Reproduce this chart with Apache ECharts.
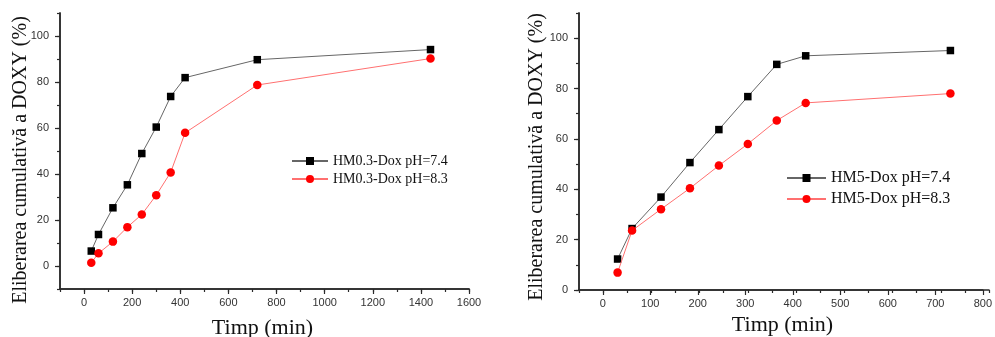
<!DOCTYPE html>
<html>
<head>
<meta charset="utf-8">
<script src="https://cdn.jsdelivr.net/npm/echarts@6/dist/echarts.min.js"></script>
<style>html,body{margin:0;padding:0;background:#fff}#c{width:995px;height:337px}</style>
</head>
<body>
<div id="c"></div>
<script>
// ---- data ----
const leftTimes = [30, 60, 120, 180, 240, 300, 360, 420, 720, 1440];
const leftPH74 = [6.5, 13.7, 25.3, 35.3, 48.9, 60.4, 73.7, 81.9, 89.7, 94.1];
const leftPH83 = [1.4, 5.5, 10.6, 16.9, 22.4, 30.8, 40.7, 57.9, 78.7, 90.2];
const rightTimes = [30, 60, 120, 180, 240, 300, 360, 420, 720];
const rightPH74 = [12.3, 24.4, 36.9, 50.6, 63.7, 76.8, 89.6, 93.0, 95.1];
const rightPH83 = [6.9, 23.6, 32.1, 40.4, 49.4, 58.0, 67.3, 74.3, 78.0];
const leftXTicks = [0, 200, 400, 600, 800, 1000, 1200, 1400, 1600];
const rightXTicks = [0, 100, 200, 300, 400, 500, 600, 700, 800];
const yTicks = [0, 20, 40, 60, 80, 100];
const leftNames = ['HM0.3-Dox pH=7.4', 'HM0.3-Dox pH=8.3'];
const rightNames = ['HM5-Dox pH=7.4', 'HM5-Dox pH=8.3'];
const yTitle = 'Eliberarea cumulativă a DOXY (%)';
const xTitle = 'Timp (min)';

const pairs = (xs, ys) => xs.map((x, i) => [x, ys[i]]);
const AX = '#2a2a2a';
const SANS = '"Liberation Sans", Arial, sans-serif';
const SERIF = '"Liberation Serif", "Times New Roman", serif';

function minorAxis(gi, min, max, interval) {
  return {
    type: 'value', gridIndex: gi, min, max, interval,
    axisLine: {show: true, onZero: false, lineStyle: {color: AX, width: 1.5}},
    axisTick: {show: true, length: 3, lineStyle: {color: AX, width: 1.2}},
    axisLabel: {show: false},
    splitLine: {show: false}
  };
}
function majorAxis(gi, min, max, ticks, margin) {
  return {
    type: 'value', gridIndex: gi, min, max,
    axisLine: {show: true, onZero: false, lineStyle: {color: AX, width: 1.5}},
    axisTick: {show: true, length: 5, customValues: ticks, lineStyle: {color: AX, width: 1.2}},
    axisLabel: {show: true, customValues: ticks, formatter: v => String(v), color: '#333', fontSize: 11, fontFamily: SANS, margin, showMinLabel: true, showMaxLabel: true},
    splitLine: {show: false}
  };
}
function lineSeries(name, data, xi, yi, black) {
  return {
    name, type: 'line', xAxisIndex: xi, yAxisIndex: yi, data,
    symbol: black ? 'rect' : 'circle', symbolSize: black ? 7.5 : 8.5,
    lineStyle: {color: black ? '#666' : '#ff7070', width: 1},
    itemStyle: {color: black ? '#000' : '#ff0000'},
    emphasis: {disabled: true}, animation: false, z: black ? 2 : 3
  };
}
function legend(name, left, top, size, w) {
  return {
    data: [name], left, top, padding: 0, itemWidth: w, itemHeight: 10, itemGap: 0,
    textStyle: {fontFamily: SERIF, fontSize: size, color: '#111'},
    selectedMode: false
  };
}

const option = {
  animation: false,
  grid: [
    {left: 60, top: 13, width: 409, height: 276},
    {left: 60, top: 13, width: 409, height: 276},
    {left: 579, top: 13, width: 410, height: 277},
    {left: 579, top: 13, width: 410, height: 277}
  ],
  xAxis: [
    minorAxis(0, -100, 1600, 100),
    majorAxis(1, -100, 1600, leftXTicks, 8),
    minorAxis(2, -50, 800, 50),
    majorAxis(3, -50, 800, rightXTicks, 8)
  ],
  yAxis: [
    minorAxis(0, -10, 110, 10),
    majorAxis(1, -10, 110, yTicks, 11),
    minorAxis(2, 0, 110, 10),
    majorAxis(3, 0, 110, yTicks, 11)
  ],
  legend: [
    legend(leftNames[0], 291, 154, 14, 36),
    legend(leftNames[1], 291, 172, 14, 36),
    legend(rightNames[0], 786, 170, 16, 39),
    legend(rightNames[1], 786, 191, 16, 39)
  ],
  series: [
    lineSeries(leftNames[0], pairs(leftTimes, leftPH74), 0, 0, true),
    lineSeries(leftNames[1], pairs(leftTimes, leftPH83), 0, 0, false),
    lineSeries(rightNames[0], pairs(rightTimes, rightPH74), 2, 2, true),
    lineSeries(rightNames[1], pairs(rightTimes, rightPH83), 2, 2, false)
  ],
  graphic: [
    {type: 'text', x: 21, y: 160, rotation: Math.PI / 2,
     style: {text: yTitle, font: '20px ' + SERIF, fill: '#111', align: 'center', verticalAlign: 'middle'}},
    {type: 'text', x: 537, y: 157, rotation: Math.PI / 2,
     style: {text: yTitle, font: '20px ' + SERIF, fill: '#111', align: 'center', verticalAlign: 'middle'}},
    {type: 'text', x: 262.5, y: 328,
     style: {text: xTitle, font: '22px ' + SERIF, fill: '#111', align: 'center', verticalAlign: 'middle'}},
    {type: 'text', x: 782.5, y: 325,
     style: {text: xTitle, font: '22px ' + SERIF, fill: '#111', align: 'center', verticalAlign: 'middle'}}
  ]
};
echarts.init(document.getElementById('c'), null, {renderer: 'canvas'}).setOption(option);
</script>
</body>
</html>
